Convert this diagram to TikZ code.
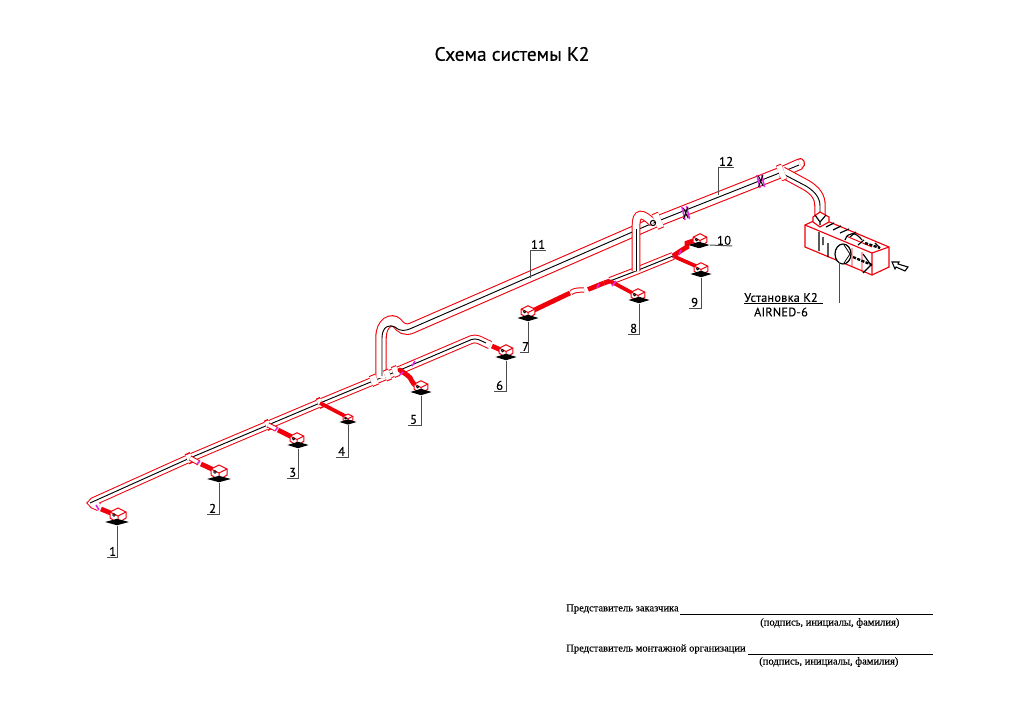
\documentclass[tikz,border=0pt]{standalone}
\usepackage{fontspec}
\setmainfont[FakeBold=0.25]{Liberation Serif}
\newfontfamily\cadfont[LetterSpace=2, FakeBold=0.3]{PT Sans}
\newfontfamily\headfont[FakeBold=0.5]{PT Sans}
\usetikzlibrary{positioning, shapes.geometric}
\definecolor{ductred}{RGB}{240,0,10}
\definecolor{damper}{RGB}{225,40,225}

\tikzset{
  pipe/.style={draw=ductred, line width=0.75pt, double=white, double distance=5pt},
  bigpipe/.style={draw=ductred, line width=0.8pt, double=white, double distance=7pt},
  axis/.style={draw=black, line width=0.7pt},
  feed/.style={draw=ductred, line width=3.6pt},
  gate/.style={draw=damper, line width=1.2pt},
  leader/.style={draw=black!70, line width=0.75pt},
  tag/.style={font=\cadfont\fontsize{9.5}{10}\selectfont, inner sep=0.6pt, anchor=south west, minimum width=8pt, align=left},
  plate/.style={diamond, fill=black, inner sep=0pt, aspect=5, minimum width=18pt, minimum height=5pt},
  sign/.style={font=\fontsize{7.9}{9}\selectfont, inner sep=0pt, anchor=west},
  unitline/.style={draw=ductred, line width=0.85pt, fill=white},
  unitmark/.style={draw=black, line width=0.85pt},
  pics/grille/.style={code={
    \draw[unitline, line width=0.75pt] (-8,-1) -- (0,-5) -- (8,-1) -- (8,5) -- (0,10) -- (-8,5) -- cycle;
    \draw[draw=ductred, line width=0.75pt] (-8,-1) -- (0,3) -- (8,-1) (0,3) -- (0,10);
    \draw[black, line width=0.6pt] (-4,2) circle (1.4);
  }}
}

\begin{document}
\begin{tikzpicture}[x=0.75pt, y=-0.75pt]
  \useasboundingbox (0,0) rectangle (1024,724);

  \coordinate (e1) at (90,503);
  \coordinate (j2) at (190,458);
  \coordinate (j3) at (268,425);
  \coordinate (j4) at (320,403);
  \coordinate (j0) at (378,379);
  \coordinate (j5) at (400,370);
  \coordinate (e6) at (475,338);
  \coordinate (j8) at (610,281);
  \coordinate (r2) at (636,271);
  \coordinate (j9) at (673,256);
  \coordinate (u0) at (653,223);
  \coordinate (u1) at (412,328);
  \coordinate (u2) at (782,172);

  % supply ducts
  \draw[pipe, rounded corners=3pt] (99,507) -- (e1) -- (j2) -- (j3) -- (j4) -- (j0) -- (j5) -- (e6) -- (490,345);
  \draw[axis, rounded corners=3pt] (e1) -- (j2) -- (j3) -- (j4) -- (j0) -- (j5) -- (e6) -- (486,343);
  \draw[pipe, double distance=4.5pt] (j8) -- (r2) -- (j9);
  \draw[axis] (j8) -- (r2) -- (j9);

  % risers
  \draw[bigpipe] (381,378) -- (381,338) .. controls (381,322) and (392,318) .. (397,323) .. controls (401,328) and (405,331) .. (u1) -- (u0) -- (u2) -- (800,164);
  \draw[axis] (382,376) -- (382,338) .. controls (382,326) and (390,324) .. (395,327) .. controls (401,332) and (405,331) .. (u1) -- (u0) -- (u2) -- (799,165);
  \draw[draw=ductred, line width=0.8pt] (798,159.4) .. controls (804,156) and (807,165) .. (802,168.6);
  \draw[pipe] (r2) -- (636,226) .. controls (636,212) and (642,212) .. (u0);
  \draw[axis] (r2) -- ++(0,-42);

  % branch to the unit
  \draw[bigpipe] (u2) -- (806,185) .. controls (816,191) and (820,197) .. (820,206) -- (820,222);
  \draw[axis] (785,175) -- (806,186) .. controls (814,191) and (820,197) .. (820,206) -- (820,216);

  % collars and dampers
  \draw[bigpipe] (371,381.5) -- (377,379);
  \draw[bigpipe] (385,376) -- (390,374);
  \draw[bigpipe] (393,372.5) -- (398,370.5);
  \draw[pipe, double distance=6pt, line width=1.1pt] (187,459.3) -- (192,457);
  \draw[pipe, double distance=6pt, line width=1.1pt] (266,425.8) -- (270,424);
  \draw[pipe, double distance=6pt, line width=1.1pt] (318,403.8) -- (322,402);
  \draw[pipe, double distance=11pt] (655,222) -- (661,219.5);
  \draw[pipe, double distance=11pt] (779,173.5) -- (784,171.5);
  \draw[black, line width=0.8pt] (653,223) circle (2.6);
  \foreach \x/\y in {685/213, 760/181}{
    \draw[gate] (\x-3,\y-6) -- (\x,\y+7) (\x+1.5,\y-7) -- (\x+4.5,\y+6);
    \draw[black, line width=0.7pt] (\x-1.5,\y-5) -- (\x+3,\y+5) (\x+3,\y-6) -- (\x-1.5,\y+6);
  }
  \draw[gate] (412,366) -- (415,361);

  % branches to the grilles
  \draw[feed] (101,509) -- (113,514);
  \draw[gate] (96,505) -- (99,510);
  \draw[pipe, double distance=2.5pt] (j2) -- (199,463);
  \draw[feed] (201,464) -- (214,470);
  \draw[gate] (197,464) -- (200,461);
  \draw[pipe, double distance=2.5pt] (j3) -- (276,429);
  \draw[feed] (278,430) -- (292,437);
  \draw[gate] (275,431) -- (278,427);
  \draw[feed, line width=2.8pt] (j4) -- (345,416);
  \draw[feed, line cap=round] (j5) -- (407,375) .. controls (413,378) and (410,384) .. (418,386);
  \draw[gate] (400,375) -- (403,372);
  \draw[feed] (492,346) -- (503,351);
  \draw[feed] (528,313) -- (570,293);
  \draw[pipe, double distance=2.5pt] (571,292.5) .. controls (575,290) and (578,290) .. (584,290);
  \draw[feed] (588,289.5) -- (604,283);
  \draw[gate] (597,288) -- (599,284);
  \draw[feed] (604,283) -- (j8);
  \draw[feed, line width=2.8pt] (j8) -- (636,295);
  \draw[gate] (612,286) -- (616,281);
  \draw[feed, line width=2.8pt] (j9) -- (698,267);
  \draw[gate] (673,258) -- (677,253);
  \draw[feed] (j9) -- (682,250) -- (687,247) -- (687,243) -- (696,240);
  \draw[gate] (679,255) -- (681,250);

  % grilles and their marks
  \pic at (118,513) {grille};
  \node[plate] (p1) at (117,522) {};
  \pic at (219,470) {grille};
  \node[plate] (p2) at (219,479) {};
  \pic[scale=0.85] at (297,437) {grille};
  \node[plate, minimum width=16pt] (p3) at (298,445) {};
  \pic[scale=0.6] at (348,417) {grille};
  \node[plate, minimum width=13pt, minimum height=4pt] (p4) at (348,422) {};
  \pic[scale=0.85] at (421,385) {grille};
  \node[plate, minimum width=16pt] (p5) at (421,392) {};
  \pic[scale=0.85] at (506,349) {grille};
  \node[plate, minimum width=16pt] (p6) at (506,357) {};
  \pic[scale=0.85] at (528,310) {grille};
  \node[plate, minimum width=16pt] (p7) at (528,318) {};
  \pic[scale=0.85] at (638,293) {grille};
  \node[plate, minimum width=16pt] (p8) at (639,300) {};
  \pic[scale=0.85] at (701,267) {grille};
  \node[plate, minimum width=16pt] (p9) at (701,274) {};
  \pic[scale=0.85] at (700,238) {grille};
  \node[plate, minimum width=16pt] (p10) at (699,245) {};

  \node[tag] (n1) at (107,557) {1};
  \node[tag] (n2) at (207,514) {2};
  \node[tag] (n3) at (287,478) {3};
  \node[tag] (n4) at (336,457) {4};
  \node[tag] (n5) at (408,425) {5};
  \node[tag] (n6) at (494,391) {6};
  \node[tag] (n7) at (520,352) {7};
  \node[tag] (n8) at (628,334) {8};
  \node[tag] (n9) at (689,308) {9};
  \node[tag] (n10) at (716,246) {10};
  \node[tag] (n11) at (530,250) {11};
  \node[tag] (n12) at (718,167) {12};
  \coordinate (a11) at (530,278);
  \coordinate (a12) at (718,195);

  \draw[leader] (p1.south) |- (n1.south west);
  \draw[leader] (p2.south) |- (n2.south west);
  \draw[leader] (p3.south) |- (n3.south west);
  \draw[leader] (p4.south) |- (n4.south west);
  \draw[leader] (p5.south) |- (n5.south west);
  \draw[leader] (p6.south) |- (n6.south west);
  \draw[leader] (p7.south) |- (n7.south west);
  \draw[leader] (p8.south) |- (n8.south west);
  \draw[leader] (p9.south) |- (n9.south west);
  \draw[leader] (p10.east) -- (n10.south east);
  \draw[leader] (a11) -- (n11.south west) -- (n11.south east);
  \draw[leader] (a12) -- (n12.south west) -- (n12.south east);

  % air handling unit
  \coordinate (fan) at (843,254);
  \draw[unitline] (805,225) -- (820,218) -- (889,247) -- (889,267) -- (872,275) -- (805,247) -- cycle;
  \draw[draw=ductred, line width=0.85pt] (805,225) -- (872,253) -- (889,247) (872,253) -- (872,275);
  \draw[draw=ductred, line width=0.7pt] (852,248) -- (852,267) (862,252) -- (862,272) (846,236) -- (872,247);
  \draw[unitline] (813,222) -- (813,217) -- (820,212) -- (829,217) -- (829,222) -- (820,227) -- cycle;
  \draw[unitmark] (815,215) -- (820,222) -- (826,215) (820,222) -- (820,225);
  \draw[unitmark] (819,232) -- (819,251) (823,237) -- (823,245) (828,243) -- (828,257)
    (826,227) -- (834,223) (833,230) -- (841,226) (840,233) -- (849,229);
  \draw[draw=black, line width=0.9pt, fill=white] (fan) ellipse (8 and 10);
  \draw[draw=black, line width=0.6pt] (844,245) -- (850,254) -- (844,263);
  \draw[unitmark] (845,240) .. controls (848,231) and (856,232) .. (862,240);
  \draw[unitmark] (850,237) -- (856,232) (858,245) -- (864,240);
  \draw[black, line width=1.7pt, dash pattern=on 2.4pt off 1pt] (853,257) -- (872,265);
  \draw[black, line width=1.7pt, dash pattern=on 2.4pt off 1pt] (865,243) -- (880,248);
  \draw[unitmark] (863,254) -- (871,265) -- (863,273) (880,248) -- (875,243);

  % intake arrow
  \node[inner sep=0pt] (intake) at (892,262) {};
  \draw[black, line width=0.8pt] (intake.center) -- (899,262) -- (898,264) -- (908,267) -- (905,271) -- (896,267) -- (895,269) -- cycle;

  % unit label
  \node[font=\cadfont\fontsize{9.2}{10}\selectfont, inner sep=0.6pt] (unitname) at (781,297.5) {Установка К2};
  \node[font=\cadfont\fontsize{9.2}{10}\selectfont, inner sep=0pt] (unittype) at (781,312) {AIRNED-6};
  \coordinate (ub) at (839,262);
  \coordinate (ue) at (839,303);
  \draw[leader] (ub) -- (ue);
  \draw[black, line width=0.75pt] (744,303) -- (823,303);

  % title
  \node[font=\headfont\fontsize{14.5}{16}\selectfont, inner sep=0pt] (title) at (512,54) {Схема системы К2};

  % signatures
  \node[sign] (s1) at (566,609) {Представитель заказчика};
  \node[sign] (s2) at (760,623) {(подпись, инициалы, фамилия)};
  \node[sign] (s3) at (566,649) {Представитель монтажной организации};
  \node[sign] (s4) at (759,662) {(подпись, инициалы, фамилия)};
  \coordinate (l1) at (933,614);
  \coordinate (l2) at (933,654);
  \draw[black, line width=0.7pt] (680,614) -- (l1);
  \draw[black, line width=0.7pt] (748,654) -- (l2);
\end{tikzpicture}
\end{document}
